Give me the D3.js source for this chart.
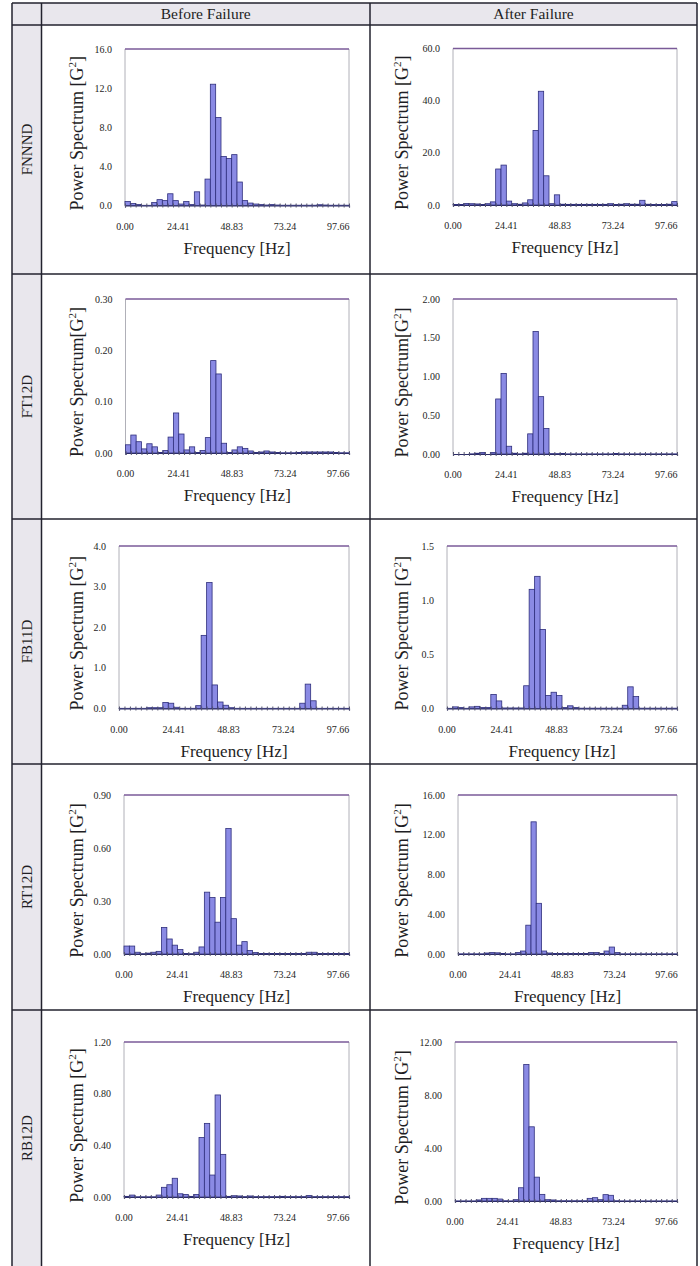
<!DOCTYPE html>
<html>
<head>
<meta charset="utf-8">
<script src="https://cdn.jsdelivr.net/npm/d3@7"></script>
<style>
  body { margin: 0; background: #fff; }
  text { font-family: "Liberation Serif", "Times New Roman", serif; fill: #1e1e24; }
</style>
</head>
<body>
<div id="chart"></div>
<script>
// bins are 2.4414 Hz wide, 42 of them on each axis
const binWidth = 2.4414;
const nBins = 42;
const xTickValues = [0, 24.41, 48.83, 73.24, 97.66];
const rowNames = ["FNNND", "FT12D", "FB11D", "RT12D", "RB12D"];
const colNames = ["Before Failure", "After Failure"];

const fnnndBefore = [0.4, 0.2, 0.1, 0.02, 0.02, 0.3, 0.6, 0.5, 1.2, 0.5, 0.15, 0.4, 0.1, 1.4, 0.05, 2.7, 12.4, 9.0, 5.0, 4.8, 5.2, 2.4, 0.5, 0.25, 0.15, 0.1, 0.05, 0.1, 0.05, 0.03, 0.03, 0.03, 0.03, 0.03, 0.03, 0.03, 0.08, 0.05, 0.03, 0.03, 0.03, 0.03];
const fnnndAfter = [0.2, 0.2, 0.6, 0.5, 0.4, 0.2, 0.5, 1.2, 13.8, 15.3, 1.5, 0.5, 0.3, 0.8, 2.0, 28.6, 43.6, 11.2, 0.5, 3.9, 0.3, 0.25, 0.25, 0.25, 0.25, 0.25, 0.25, 0.25, 0.25, 0.5, 0.2, 0.3, 0.5, 0.3, 0.3, 1.8, 0.3, 0.2, 0.2, 0.2, 0.3, 1.3];
const ft12dBefore = [0.016, 0.035, 0.022, 0.008, 0.018, 0.012, 0.001, 0.005, 0.031, 0.078, 0.037, 0.006, 0.012, 0.001, 0.005, 0.030, 0.180, 0.154, 0.019, 0.001, 0.006, 0.012, 0.009, 0.004, 0.001, 0.002, 0.004, 0.002, 0.001, 0.0005, 0.0005, 0.0005, 0.001, 0.002, 0.002, 0.002, 0.002, 0.002, 0.002, 0.001, 0.0005, 0.0005];
const ft12dAfter = [0, 0, 0, 0.002, 0.01, 0.02, 0, 0.02, 0.71, 1.04, 0.10, 0.01, 0.002, 0.01, 0.26, 1.58, 0.74, 0.33, 0.005, 0.005, 0.008, 0.002, 0.002, 0.002, 0.002, 0.002, 0.002, 0.002, 0.002, 0.002, 0.006, 0.002, 0.002, 0.002, 0.002, 0.002, 0.002, 0.002, 0.002, 0.002, 0.002, 0.002];
const fb11dBefore = [0.005, 0.005, 0.005, 0.005, 0.005, 0.02, 0.02, 0.02, 0.15, 0.13, 0.03, 0.005, 0.005, 0.005, 0.07, 1.80, 3.10, 0.58, 0.16, 0.08, 0.02, 0.005, 0.005, 0.005, 0.005, 0.005, 0.005, 0.005, 0.005, 0.005, 0.005, 0.005, 0.005, 0.13, 0.60, 0.19, 0.005, 0.005, 0.005, 0.005, 0.005, 0.005];
const fb11dAfter = [0.002, 0.015, 0.01, 0.002, 0.015, 0.02, 0.01, 0.01, 0.13, 0.07, 0.005, 0.005, 0.005, 0.005, 0.21, 1.10, 1.22, 0.73, 0.12, 0.15, 0.12, 0.01, 0.025, 0.01, 0.003, 0.003, 0.003, 0.003, 0.003, 0.003, 0.003, 0.003, 0.03, 0.20, 0.11, 0.003, 0.003, 0.003, 0.003, 0.003, 0.003, 0.003];
const rt12dBefore = [0.045, 0.045, 0.01, 0.002, 0.005, 0.01, 0.015, 0.15, 0.085, 0.05, 0.025, 0.003, 0.002, 0.01, 0.04, 0.35, 0.32, 0.18, 0.32, 0.71, 0.20, 0.05, 0.07, 0.02, 0.008, 0.003, 0.003, 0.003, 0.003, 0.003, 0.003, 0.003, 0.003, 0.003, 0.01, 0.01, 0.003, 0.003, 0.003, 0.003, 0.003, 0.003];
const rt12dAfter = [0.02, 0.02, 0.02, 0.02, 0.02, 0.1, 0.15, 0.12, 0.05, 0.02, 0.02, 0.15, 0.3, 2.9, 13.3, 5.1, 0.3, 0.1, 0.05, 0.05, 0.05, 0.05, 0.05, 0.05, 0.05, 0.15, 0.15, 0.05, 0.3, 0.7, 0.15, 0.02, 0.02, 0.02, 0.02, 0.02, 0.02, 0.02, 0.02, 0.02, 0.02, 0.02];
const rb12dBefore = [0.005, 0.015, 0.002, 0.002, 0.002, 0.002, 0.015, 0.075, 0.095, 0.145, 0.025, 0.02, 0.005, 0.02, 0.46, 0.57, 0.17, 0.79, 0.33, 0.005, 0.01, 0.008, 0.003, 0.008, 0.003, 0.003, 0.003, 0.003, 0.003, 0.005, 0.003, 0.003, 0.003, 0.003, 0.012, 0.003, 0.003, 0.003, 0.003, 0.003, 0.003, 0.003];
const rb12dAfter = [0.01, 0.01, 0.01, 0.01, 0.08, 0.2, 0.2, 0.2, 0.15, 0.02, 0.01, 0.1, 1.0, 10.3, 5.6, 1.8, 0.5, 0.1, 0.08, 0.02, 0.02, 0.02, 0.02, 0.02, 0.02, 0.2, 0.25, 0.1, 0.48, 0.43, 0.02, 0.01, 0.01, 0.01, 0.01, 0.01, 0.01, 0.01, 0.01, 0.01, 0.01, 0.01];

// y axis maximum, tick step and decimals, per panel (row-major: before, after)
const yMax = [16, 60, 0.3, 2, 4, 1.5, 0.9, 16, 1.2, 12];
const yStep = [4, 20, 0.1, 0.5, 1, 0.5, 0.3, 4, 0.4, 4];
const yDecimals = [1, 1, 2, 2, 1, 1, 2, 2, 2, 2];
const series = [fnnndBefore, fnnndAfter, ft12dBefore, ft12dAfter, fb11dBefore, fb11dAfter, rt12dBefore, rt12dAfter, rb12dBefore, rb12dAfter];

// plot boxes [left, right, top, bottom]
const boxes = [
  [125, 349, 49, 205.5], [453, 677, 48.5, 205],
  [125.5, 349, 299, 453], [453, 677, 299, 454],
  [119, 349, 546, 708.5], [447, 677, 546, 708.5],
  [124, 349, 795, 954], [458, 677, 795, 954],
  [124, 349, 1042, 1197], [455, 677, 1042, 1201]
];

const width = 700, height = 1266;
const svg = d3.select("#chart").append("svg")
  .attr("width", width).attr("height", height);

// table frame
const colX = [12, 41.5, 370, 697];
const rowY = [3, 25, 274, 519, 764, 1010, 1266];
const cellBg = "#e9e7ed";
const lineCol = "#22222e";

svg.append("rect").attr("x", colX[0]).attr("y", rowY[0])
  .attr("width", colX[1] - colX[0]).attr("height", height - rowY[0]).attr("fill", cellBg);
svg.append("rect").attr("x", colX[1]).attr("y", rowY[0])
  .attr("width", colX[3] - colX[1]).attr("height", rowY[1] - rowY[0]).attr("fill", cellBg);

colX.forEach(x => svg.append("line")
  .attr("x1", x).attr("x2", x).attr("y1", rowY[0]).attr("y2", height)
  .attr("stroke", lineCol).attr("stroke-width", 1.5));
rowY.slice(0, 6).forEach(y => svg.append("line")
  .attr("x1", colX[0]).attr("x2", colX[3]).attr("y1", y).attr("y2", y)
  .attr("stroke", lineCol).attr("stroke-width", 1.5));

colNames.forEach((c, i) => svg.append("text")
  .attr("x", (colX[i + 1] + colX[i + 2]) / 2).attr("y", 19)
  .attr("text-anchor", "middle").style("font-size", "15.5px").text(c));

rowNames.forEach((r, i) => {
  const cy = (rowY[i + 1] + rowY[i + 2]) / 2;
  svg.append("text")
    .attr("transform", `translate(32, ${cy}) rotate(-90)`)
    .attr("text-anchor", "middle").style("font-size", "15px").text(r);
});

// panels
series.forEach((data, p) => {
  const [x0, x1, y0, y1] = boxes[p];
  const col = p % 2;
  const x = d3.scaleLinear().domain([0, nBins * binWidth]).range([x0, x1]);
  const y = d3.scaleLinear().domain([0, yMax[p]]).range([y1, y0]);
  const g = svg.append("g");

  // plot border
  g.append("line").attr("x1", x0).attr("x2", x0).attr("y1", y0).attr("y2", y1)
    .attr("stroke", "#b0b0b8").attr("stroke-width", 1);
  g.append("line").attr("x1", x1).attr("x2", x1).attr("y1", y0).attr("y2", y1)
    .attr("stroke", "#b0b0b8").attr("stroke-width", 1);
  g.append("line").attr("x1", x0).attr("x2", x1).attr("y1", y0).attr("y2", y0)
    .attr("stroke", "#7a5a98").attr("stroke-width", 1.3);

  // bars
  g.selectAll("rect.bar").data(data).enter().append("rect")
    .attr("class", "bar")
    .attr("x", (d, i) => x(i * binWidth))
    .attr("width", x(binWidth) - x(0))
    .attr("y", d => y(d))
    .attr("height", d => y1 - y(d))
    .attr("fill", "#8a8ae4")
    .attr("stroke", "#2e2e7c")
    .attr("stroke-width", 0.8);

  // x axis with a minor tick on every bin edge
  const xAxis = d3.axisBottom(x)
    .tickValues(d3.range(nBins + 1).map(i => i * binWidth))
    .tickSize(2).tickFormat("");
  const gx = g.append("g").attr("transform", `translate(0, ${y1})`).call(xAxis);
  gx.select(".domain").attr("stroke", "#2a2a66").attr("stroke-width", 1.2);
  gx.selectAll(".tick line").attr("stroke", "#555570").attr("y1", -2);

  g.selectAll("text.xt").data(xTickValues).enter().append("text")
    .attr("class", "xt")
    .attr("x", d => x(d)).attr("y", y1 + 24)
    .attr("text-anchor", "middle").style("font-size", "10px")
    .text(d => d.toFixed(2));

  // y ticks
  const yTicks = d3.range(0, yMax[p] + yStep[p] / 2, yStep[p]);
  g.selectAll("text.yt").data(yTicks).enter().append("text")
    .attr("class", "yt")
    .attr("x", x0 - 13).attr("y", d => y(d) + 3.5)
    .attr("text-anchor", "end").style("font-size", "10px")
    .text(d => d.toFixed(yDecimals[p]));

  // axis titles
  g.append("text")
    .attr("x", (x0 + x1) / 2).attr("y", y1 + 48)
    .attr("text-anchor", "middle").style("font-size", "17px")
    .text("Frequency [Hz]");

  const space = (p === 2 || p === 3) ? "" : " ";
  const yl = g.append("text")
    .attr("transform", `translate(${col === 0 ? 83 : 408}, ${(y0 + y1) / 2 + 6}) rotate(-90)`)
    .attr("text-anchor", "middle").style("font-size", "18px");
  yl.append("tspan").text("Power Spectrum" + space + "[G");
  yl.append("tspan").attr("dy", -7).style("font-size", "11px").text("2");
  yl.append("tspan").attr("dy", 7).text("]");
});
</script>
</body>
</html>
